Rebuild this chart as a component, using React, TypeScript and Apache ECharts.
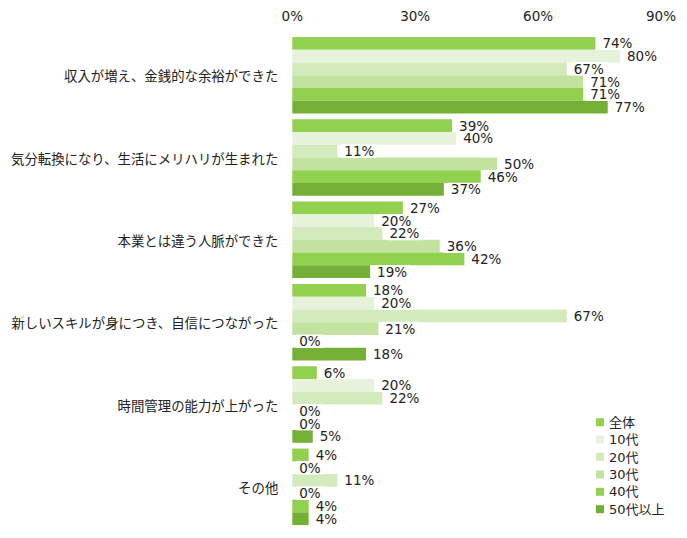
import { useEffect, useRef } from 'react';
import * as echarts from 'echarts';

const categories = [
  '収入が増え、金銭的な余裕ができた',
  '気分転換になり、生活にメリハリが生まれた',
  '本業とは違う人脈ができた',
  '新しいスキルが身につき、自信につながった',
  '時間管理の能力が上がった',
  'その他',
];

const seriesNames = ['全体', '10代', '20代', '30代', '40代', '50代以上'];

// one array per series, in category order
const allAges = [74, 39, 27, 18, 6, 4];
const teens = [80, 40, 20, 20, 20, 0];
const twenties = [67, 11, 22, 67, 22, 11];
const thirties = [71, 50, 36, 21, 0, 0];
const forties = [71, 46, 42, 0, 0, 4];
const fiftiesPlus = [77, 37, 19, 18, 5, 4];

const seriesValues = [allAges, teens, twenties, thirties, forties, fiftiesPlus];
const colors = ['#92d050', '#e6f3da', '#d3ebbc', '#c2e3a0', '#92d050', '#74b035'];

const xTicks = { min: 0, max: 90, interval: 30 };

const numFont = '"DejaVu Sans", "Noto Sans CJK JP", sans-serif';

export default function App() {
  const chartRef = useRef<HTMLDivElement>(null);

  useEffect(() => {
    if (!chartRef.current) return;
    const chart = echarts.init(chartRef.current, null, { renderer: 'svg' });

    const option: echarts.EChartsOption = {
      animation: false,
      backgroundColor: '#fff',
      textStyle: { fontFamily: numFont },
      grid: { left: 284, right: 16, top: 26, bottom: 2 },
      legend: {
        orient: 'vertical',
        left: 588,
        top: 407,
        padding: 0,
        itemWidth: 8,
        itemHeight: 8,
        itemGap: 3,
        icon: 'rect',
        textStyle: { fontSize: 13, lineHeight: 14.4, color: '#222', fontFamily: numFont },
        data: seriesNames,
      },
      xAxis: {
        type: 'value',
        position: 'top',
        min: xTicks.min,
        max: xTicks.max,
        interval: xTicks.interval,
        axisLine: { show: false },
        axisTick: { show: false },
        splitLine: { show: false },
        axisLabel: { formatter: '{value}%', fontSize: 13.5, color: '#222', margin: 11 },
      },
      yAxis: {
        type: 'category',
        data: categories,
        inverse: true,
        axisLine: { show: false },
        axisTick: { show: false },
        axisLabel: {
          fontSize: 13.4,
          color: '#222',
          margin: 14,
          fontFamily: '"Noto Sans CJK JP", sans-serif',
        },
      },
      series: seriesNames.map((name, i) => ({
        name,
        type: 'bar' as const,
        data: seriesValues[i],
        barGap: '0%',
        barCategoryGap: '7%',
        itemStyle: { color: colors[i] },
        label: {
          show: true,
          position: 'right' as const,
          distance: 4,
          formatter: '{c}%',
          fontSize: 13.5,
          color: '#222',
          backgroundColor: '#fff',
          padding: [0, 3],
        },
      })),
    };

    chart.setOption(option);

    return () => {
      chart.dispose();
    };
  }, []);

  return <div ref={chartRef} style={{ width: 671, height: 522 }} />;
}
